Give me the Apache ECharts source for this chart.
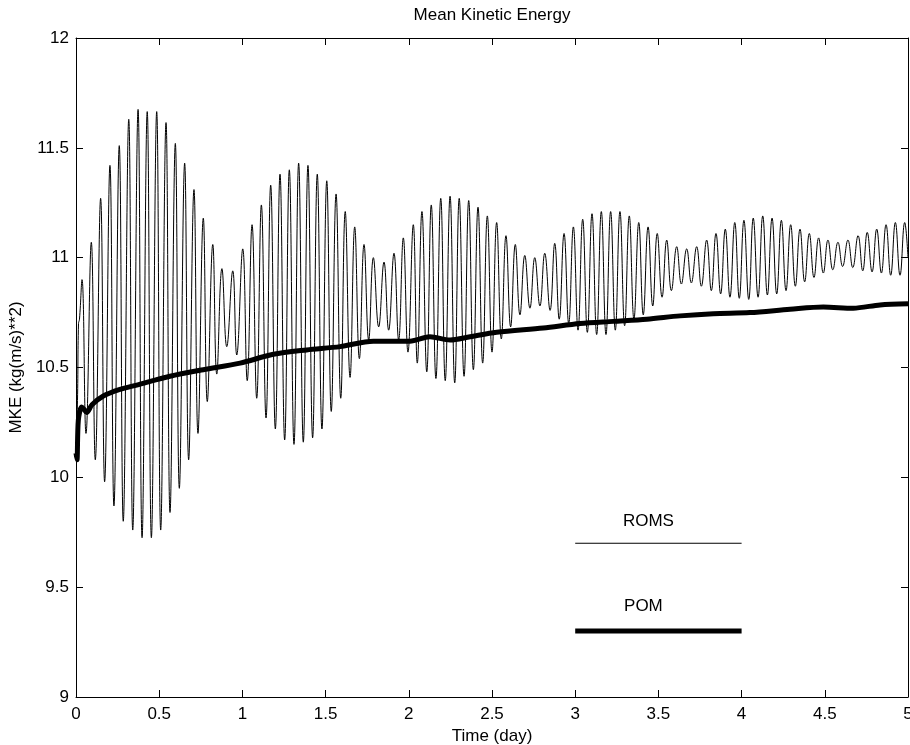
<!DOCTYPE html>
<html>
<head>
<meta charset="utf-8">
<script src="https://cdn.jsdelivr.net/npm/echarts@6/dist/echarts.min.js"></script>
<style>
html,body{margin:0;padding:0;background:#fff;}
#c{width:910px;height:745px;}
</style>
</head>
<body>
<div id="c"></div>
<script>
// ---- data ----
var titleText = 'Mean Kinetic Energy';
var xName = 'Time (day)';
var yName = 'MKE (kg(m/s)**2)';
var xTicks = [0, 0.5, 1, 1.5, 2, 2.5, 3, 3.5, 4, 4.5, 5];
var yTicks = [9, 9.5, 10, 10.5, 11, 11.5, 12];

var romsTime = [0,0.009,0.015,0.021,0.036,0.060,0.092,0.116,0.148,0.172,0.204,0.228,0.260,0.284,0.317,0.341,0.373,0.397,0.428,0.453,0.485,0.509,0.541,0.565,0.597,0.621,0.653,0.677,0.709,0.733,0.765,0.789,0.822,0.846,0.877,0.906,0.942,0.966,
1.002,1.029,1.058,1.086,1.114,1.142,1.170,1.198,1.226,1.254,1.282,1.310,1.338,1.366,1.394,1.422,1.450,1.478,1.507,1.534,1.563,1.591,1.618,1.647,1.675,1.703,1.731,1.759,1.787,1.819,1.851,1.879,1.911,1.939,1.967,1.995,
2.027,2.051,2.079,2.108,2.135,2.163,2.192,2.219,2.248,2.276,2.303,2.332,2.360,2.388,2.416,2.444,2.472,2.500,2.528,2.556,2.584,2.612,2.640,2.668,2.697,2.728,2.757,2.788,2.817,2.849,2.877,2.904,2.933,2.961,2.989,
3.017,3.045,3.073,3.101,3.129,3.157,3.185,3.213,3.241,3.269,3.297,3.325,3.353,3.382,3.409,3.438,3.466,3.493,3.522,3.550,3.578,3.610,3.638,3.670,3.698,3.730,3.758,3.790,3.818,3.846,3.874,3.902,3.930,3.959,3.986,
4.014,4.043,4.070,4.099,4.127,4.155,4.183,4.211,4.239,4.267,4.295,4.323,4.351,4.379,4.407,4.435,4.463,4.491,4.519,4.548,4.579,4.607,4.639,4.668,4.700,4.728,4.755,4.784,4.812,4.840,4.868,4.896,4.924,4.952,4.980,5.000];
var romsMKE = [10.11,10.35,10.70,10.72,10.90,10.20,11.07,10.08,11.27,9.98,11.42,9.87,11.51,9.80,11.63,9.76,11.675,9.725,11.665,9.725,11.665,9.76,11.615,9.84,11.52,9.95,11.43,10.08,11.31,10.20,11.18,10.345,11.06,10.47,10.95,10.595,10.94,10.557,
11.04,10.44,11.15,10.36,11.24,10.27,11.33,10.22,11.38,10.17,11.40,10.15,11.43,10.16,11.42,10.18,11.38,10.22,11.35,10.30,11.29,10.36,11.21,10.455,11.14,10.54,11.06,10.625,11.00,10.685,10.98,10.67,11.02,10.625,11.09,10.57,
11.15,10.52,11.21,10.48,11.24,10.45,11.27,10.44,11.28,10.43,11.27,10.46,11.26,10.49,11.23,10.52,11.19,10.57,11.16,10.63,11.10,10.685,11.06,10.74,11.01,10.77,11.00,10.78,11.02,10.76,11.065,10.72,11.11,10.70,11.14,
10.67,11.175,10.66,11.20,10.65,11.21,10.65,11.21,10.67,11.21,10.69,11.19,10.72,11.16,10.74,11.14,10.78,11.11,10.82,11.08,10.85,11.05,10.88,11.04,10.885,11.05,10.87,11.08,10.85,11.11,10.835,11.13,10.82,11.16,10.815,
11.17,10.81,11.18,10.82,11.19,10.83,11.18,10.835,11.17,10.85,11.15,10.87,11.13,10.89,11.11,10.91,11.09,10.93,11.08,10.945,11.07,10.96,11.08,10.955,11.10,10.94,11.115,10.935,11.13,10.93,11.15,10.92,11.16,10.92,11.16,11.00];

var pomTime = [0,0.006,0.014,0.034,0.048,0.064,0.096,0.164,0.264,0.365,0.565,0.765,0.986,1.186,1.386,1.587,1.787,2.007,2.127,2.248,2.368,2.528,2.808,3.029,3.229,3.430,3.630,3.830,4.050,4.291,4.491,4.671,4.832,5.000];
var pomMKE  = [10.11,10.08,10.26,10.32,10.31,10.295,10.33,10.37,10.40,10.42,10.46,10.49,10.52,10.56,10.58,10.595,10.62,10.62,10.64,10.625,10.64,10.66,10.68,10.70,10.71,10.72,10.735,10.745,10.75,10.765,10.775,10.77,10.785,10.79];

// hand-drawn legend inside the axes (data coordinates)
var legendNames = ['ROMS', 'POM'];
var legendLineX = [3, 4];
var legendLineY = [9.7, 9.3];
var legendTextX = [3.44, 3.41];
var legendTextY = [9.8, 9.415];

// ---- build ----
function pairs(xs, ys){ var o=[]; for(var i=0;i<xs.length;i++) o.push([xs[i], ys[i]]); return o; }
var FONT = 'Liberation Sans, Arial, Helvetica, sans-serif';
var chart = echarts.init(document.getElementById('c'), null, {renderer:'canvas'});

function axisCommon(extra){
  var base = {
    axisLine:{show:true, onZero:false, lineStyle:{color:'#000', width:1}},
    axisTick:{show:true, inside:true, length:7, lineStyle:{color:'#000', width:1}},
    splitLine:{show:false}
  };
  for (var k in extra) base[k]=extra[k];
  return base;
}

var option = {
  animation:false,
  backgroundColor:'#fff',
  grid:{left:76, right:2, top:38, bottom:48, containLabel:false, outerBoundsMode:'none'},
  graphic:[{type:'text', x:492, y:15, style:{text:titleText, font:'17px '+FONT, fill:'#000', textAlign:'center', textVerticalAlign:'middle'}}],
  xAxis:[
    axisCommon({type:'value', position:'bottom', min:xTicks[0], max:xTicks[xTicks.length-1], interval:0.5,
      name:xName, nameLocation:'middle', nameGap:29,
      nameTextStyle:{color:'#000', fontSize:17, fontFamily:FONT},
      axisLabel:{color:'#000', fontSize:17, fontFamily:FONT, margin:9}}),
    axisCommon({type:'value', position:'top', min:xTicks[0], max:xTicks[xTicks.length-1], interval:0.5,
      axisLabel:{show:false}})
  ],
  yAxis:[
    axisCommon({type:'value', position:'left', min:yTicks[0], max:yTicks[yTicks.length-1], interval:0.5,
      name:yName, nameLocation:'middle', nameGap:47,
      nameTextStyle:{color:'#000', fontSize:17, fontFamily:FONT},
      axisLabel:{color:'#000', fontSize:17, fontFamily:FONT, margin:7}}),
    axisCommon({type:'value', position:'right', min:yTicks[0], max:yTicks[yTicks.length-1], interval:0.5,
      axisLabel:{show:false}})
  ],
  series:[
    {type:'line', name:'ROMS', data:pairs(romsTime, romsMKE), showSymbol:false, smooth:0.45,
      lineStyle:{color:'#000', width:1}, z:2},
    {type:'line', name:'POM', data:pairs(pomTime, pomMKE), showSymbol:false, smooth:0.3,
      lineStyle:{color:'#000', width:5}, z:3},
    {type:'line', name:'legROMS', data:pairs(legendLineX, [legendLineY[0], legendLineY[0]]), showSymbol:false,
      lineStyle:{color:'#000', width:1.2}},
    {type:'line', name:'legPOM', data:pairs(legendLineX, [legendLineY[1], legendLineY[1]]), showSymbol:false,
      lineStyle:{color:'#000', width:5}}
  ]
};
chart.setOption(option);

// legend texts placed through the chart's own coordinate conversion
var texts = legendNames.map(function(n, i){
  var p = chart.convertToPixel({gridIndex:0}, [legendTextX[i], legendTextY[i]]);
  return {type:'text', x:p[0], y:p[1], z:10,
    style:{text:n, font:'17px '+FONT, fill:'#000', textAlign:'center', textVerticalAlign:'middle'}};
});
chart.setOption({graphic:[{type:'text', x:492, y:15, style:{text:titleText, font:'17px '+FONT, fill:'#000', textAlign:'center', textVerticalAlign:'middle'}}].concat(texts)});
</script>
</body>
</html>
